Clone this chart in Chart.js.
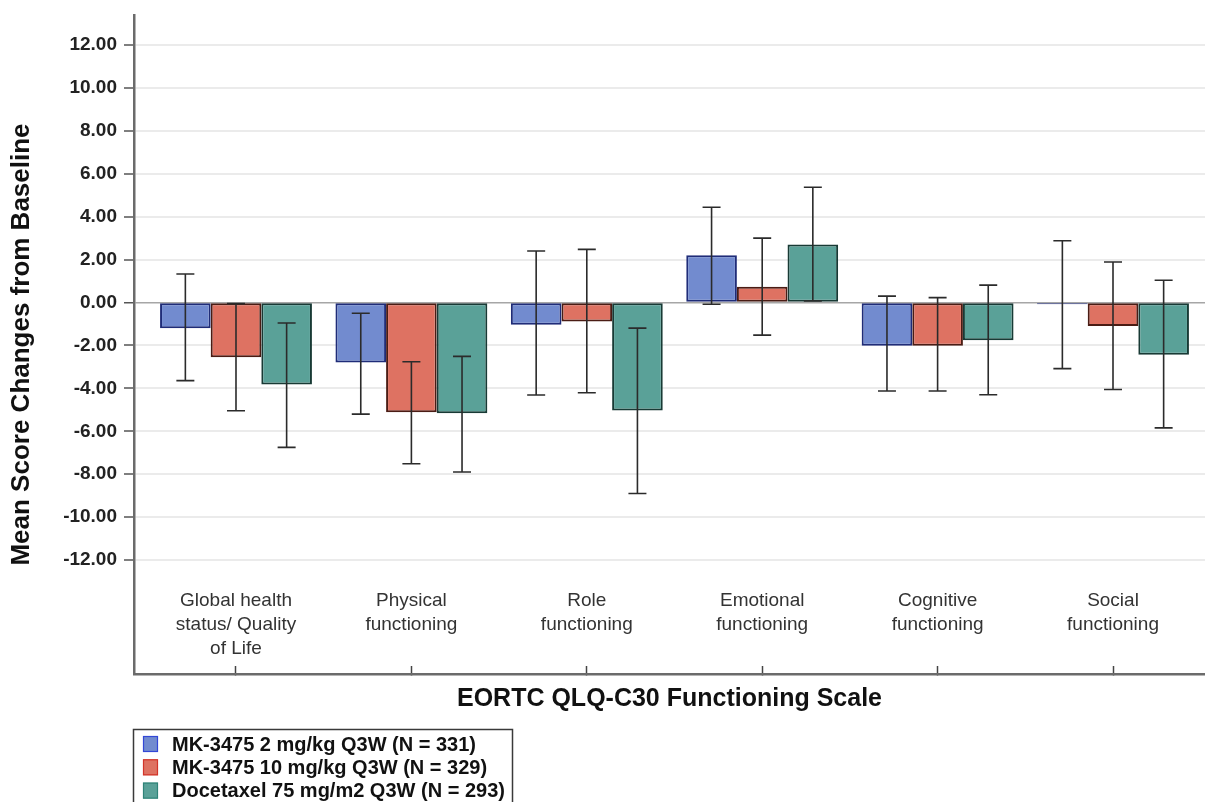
<!DOCTYPE html>
<html>
<head>
<meta charset="utf-8">
<script src="https://cdn.jsdelivr.net/npm/chart.js@4.4.1/dist/chart.umd.min.js"></script>
<style>
  html, body { margin: 0; padding: 0; background: #fff; }
  #wrap { width: 1205px; height: 802px; }
</style>
</head>
<body>
<div id="wrap"><canvas id="chart" width="1205" height="802"></canvas></div>
<script>
// Categorieen (meerregelige labels zoals in de figuur)
const categories = [
    ['Global health', 'status/ Quality', 'of Life'],
    ['Physical', 'functioning'],
    ['Role', 'functioning'],
    ['Emotional', 'functioning'],
    ['Cognitive', 'functioning'],
    ['Social', 'functioning']
];

const yTicks = [-12, -10, -8, -6, -4, -2, 0, 2, 4, 6, 8, 10, 12];

// MK-3475 2 mg/kg
const mk2Mean  = [-1.20, -2.79, -1.04, 2.20, -2.01, -0.08];
const mk2Low   = [-3.64, -5.20, -4.31, -0.08, -4.12, -3.08];
const mk2High  = [1.33, -0.50, 2.40, 4.44, 0.30, 2.88];

// MK-3475 10 mg/kg
const mk10Mean = [-2.55, -5.11, -0.88, 0.74, -2.01, -1.09];
const mk10Low  = [-5.04, -7.51, -4.20, -1.52, -4.12, -4.05];
const mk10High = [-0.05, -2.76, 2.48, 3.00, 0.23, 1.89];

// Docetaxel 75 mg/m2
const docMean  = [-3.82, -5.16, -5.03, 2.71, -1.76, -2.43];
const docLow   = [-6.75, -7.90, -8.90, 0.07, -4.30, -5.84];
const docHigh  = [-0.95, -2.51, -1.19, 5.37, 0.81, 1.04];

const FONT = '"Liberation Sans", Arial, sans-serif';

// Foutbalken over de staven tekenen
const errorBars = {
    id: 'errorBars',
    afterDatasetsDraw(chart) {
        const ctx = chart.ctx;
        const yScale = chart.scales.y;
        ctx.save();
        ctx.strokeStyle = '#2b2b2b';
        ctx.lineWidth = 1.6;
        chart.data.datasets.forEach((ds, i) => {
            const meta = chart.getDatasetMeta(i);
            meta.data.forEach((bar, j) => {
                const x = bar.x;
                const yl = yScale.getPixelForValue(ds.errLow[j]);
                const yh = yScale.getPixelForValue(ds.errHigh[j]);
                ctx.beginPath();
                ctx.moveTo(x, yl);
                ctx.lineTo(x, yh);
                ctx.moveTo(x - 9, yl);
                ctx.lineTo(x + 9, yl);
                ctx.moveTo(x - 9, yh);
                ctx.lineTo(x + 9, yh);
                ctx.stroke();
            });
        });
        ctx.restore();
    }
};

// Legenda in een kader linksonder
const boxLegend = {
    id: 'boxLegend',
    afterDraw(chart) {
        const ctx = chart.ctx;
        const left = chart.chartArea.left - 1;
        const top = chart.scales.x.bottom + 15;
        ctx.save();
        ctx.strokeStyle = '#3a3a3a';
        ctx.lineWidth = 1.5;
        ctx.strokeRect(left + 0.5, top + 0.5, 379, 90);
        ctx.font = 'bold 20px ' + FONT;
        ctx.textBaseline = 'middle';
        ctx.textAlign = 'left';
        chart.data.datasets.forEach((ds, i) => {
            const cy = top + 15 + i * 23.3;
            ctx.fillStyle = ds.backgroundColor;
            ctx.fillRect(left + 10, cy - 8, 15, 16);
            ctx.strokeStyle = ds.swatchBorder;
            ctx.lineWidth = 1.2;
            ctx.strokeRect(left + 10.5, cy - 7.5, 14, 15);
            ctx.fillStyle = '#111';
            ctx.fillText(ds.label, left + 39, cy + 1);
        });
        ctx.restore();
    }
};

new Chart(document.getElementById('chart'), {
    type: 'bar',
    data: {
        labels: categories.map((c, i) => i),
        datasets: [
            {
                label: 'MK-3475 2 mg/kg Q3W (N = 331)',
                data: mk2Mean,
                errLow: mk2Low,
                errHigh: mk2High,
                backgroundColor: '#728bcf',
                borderColor: '#1f2c78',
                swatchBorder: '#3347d6'
            },
            {
                label: 'MK-3475 10 mg/kg Q3W (N = 329)',
                data: mk10Mean,
                errLow: mk10Low,
                errHigh: mk10High,
                backgroundColor: '#de7262',
                borderColor: '#4a1c14',
                swatchBorder: '#d2352a'
            },
            {
                label: 'Docetaxel 75 mg/m2 Q3W (N = 293)',
                data: docMean,
                errLow: docLow,
                errHigh: docHigh,
                backgroundColor: '#5aa198',
                borderColor: '#183a35',
                swatchBorder: '#2f8378'
            }
        ]
    },
    options: {
        responsive: false,
        animation: false,
        devicePixelRatio: 1,
        layout: { padding: { top: 15, left: 0, right: 0, bottom: 88 } },
        datasets: {
            bar: {
                borderWidth: 2,
                borderSkipped: false,
                barPercentage: 1.0,
                categoryPercentage: 0.866
            }
        },
        plugins: {
            legend: { display: false },
            tooltip: { enabled: false }
        },
        scales: {
            x: {
                type: 'linear',
                offset: false,
                min: -0.5815,
                max: 5.5245,
                afterBuildTicks: (scale) => {
                    scale.ticks = categories.map((c, i) => ({ value: i }));
                },
                afterFit: (scale) => {
                    scale.height = 40;
                    scale.paddingLeft = 0;
                    scale.paddingRight = 0;
                },
                grid: {
                    offset: false,
                    drawOnChartArea: false,
                    drawTicks: true,
                    tickLength: -8,
                    tickColor: '#444',
                    tickWidth: 1.5
                },
                border: { display: true, color: '#6b6b6b', width: 2.5 },
                ticks: {
                    autoSkip: false,
                    maxRotation: 0,
                    mirror: true,
                    padding: 61,
                    color: '#333',
                    font: { family: FONT, size: 19, lineHeight: 1.26 },
                    callback: (value) => categories[value]
                },
                title: {
                    display: true,
                    text: 'EORTC QLQ-C30 Functioning Scale',
                    color: '#111',
                    font: { family: FONT, size: 25, weight: 'bold', lineHeight: 1.2 },
                    padding: { top: 0, bottom: 0 }
                }
            },
            y: {
                min: -17.31,
                max: 13.40,
                afterBuildTicks: (scale) => {
                    scale.ticks = yTicks.map(v => ({ value: v }));
                },
                afterFit: (scale) => {
                    scale.width = 134;
                    scale.paddingTop = 0;
                    scale.paddingBottom = 0;
                },
                grid: {
                    color: (c) => c.tick && c.tick.value === 0 ? '#a6a6a6' : '#ebebeb',
                    lineWidth: (c) => c.tick && c.tick.value === 0 ? 1.5 : 2,
                    tickColor: '#555',
                    tickLength: 10,
                    tickWidth: 1.5
                },
                border: { display: true, color: '#6b6b6b', width: 2.5 },
                ticks: {
                    padding: 7,
                    color: '#222',
                    font: { family: FONT, size: 19, weight: 'bold' },
                    callback: (value) => value.toFixed(2)
                },
                title: {
                    display: true,
                    text: 'Mean Score Changes from Baseline',
                    color: '#111',
                    font: { family: FONT, size: 26, weight: 'bold', lineHeight: 1.2 },
                    padding: { top: 6, bottom: 0 }
                }
            }
        }
    },
    plugins: [errorBars, boxLegend]
});
</script>
</body>
</html>
